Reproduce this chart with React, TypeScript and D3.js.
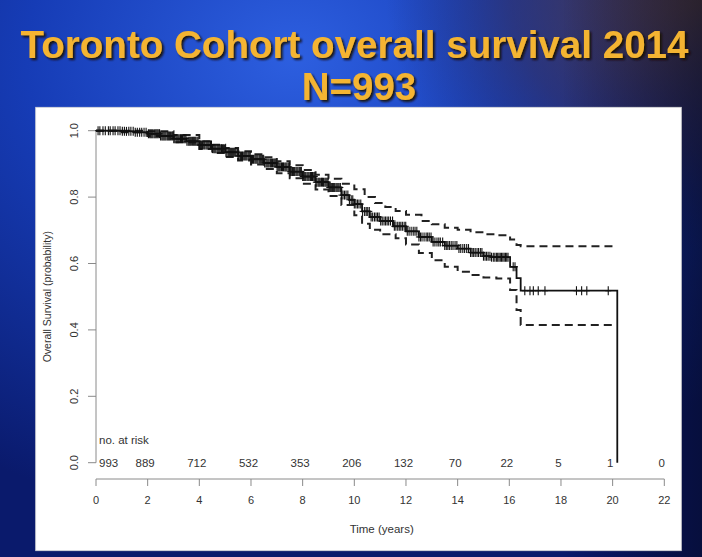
import React from "react";
import * as d3 from "d3";

// Kaplan–Meier estimate: [time (years), survival probability]
const survival: [number, number][] = [
  [0, 1.0], [0.5, 1.0], [1.0, 0.998], [1.5, 0.995], [2.0, 0.991], [2.5, 0.984],
  [3.0, 0.976], [3.5, 0.968], [4.0, 0.957], [4.5, 0.946], [5.0, 0.935], [5.5, 0.924],
  [6.0, 0.914], [6.5, 0.903], [7.0, 0.891], [7.5, 0.877], [8.0, 0.862], [8.5, 0.845],
  [9.0, 0.829], [9.5, 0.806], [9.8, 0.792], [10.0, 0.779], [10.3, 0.757], [10.6, 0.74],
  [11.0, 0.728], [11.5, 0.712], [12.0, 0.697], [12.5, 0.68], [13.0, 0.665], [13.5, 0.654],
  [14.0, 0.645], [14.5, 0.633], [15.0, 0.622], [15.3, 0.619], [16.03, 0.59],
  [16.28, 0.556], [16.44, 0.518], [20.18, 0],
];

// 95% confidence band, upper limit
const upperCI: [number, number][] = [
  [0, 1.0], [1.0, 1.0], [2.0, 0.998], [3.0, 0.987], [4.0, 0.968], [4.5, 0.958],
  [5.0, 0.948], [5.5, 0.938], [6.0, 0.929], [6.5, 0.92], [7.0, 0.908], [7.5, 0.896],
  [8.0, 0.882], [8.5, 0.867], [9.0, 0.855], [9.5, 0.84], [10.0, 0.824], [10.4, 0.8],
  [10.8, 0.782], [11.2, 0.77], [11.6, 0.758], [12.0, 0.747], [12.6, 0.728], [13.0, 0.718],
  [13.5, 0.708], [14.0, 0.702], [14.5, 0.694], [15.0, 0.688], [15.5, 0.685],
  [16.03, 0.672], [16.28, 0.656], [16.44, 0.652], [20.18, 0.652],
];

// 95% confidence band, lower limit
const lowerCI: [number, number][] = [
  [0, 1.0], [1.0, 0.995], [2.0, 0.984], [3.0, 0.965], [4.0, 0.945], [4.5, 0.933],
  [5.0, 0.921], [5.5, 0.91], [6.0, 0.898], [6.5, 0.885], [7.0, 0.872], [7.5, 0.857],
  [8.0, 0.84], [8.5, 0.823], [9.0, 0.803], [9.5, 0.776], [10.0, 0.745], [10.3, 0.72],
  [10.6, 0.702], [11.0, 0.688], [11.6, 0.676], [12.0, 0.657], [12.5, 0.632], [13.0, 0.61],
  [13.5, 0.59], [14.0, 0.575], [14.5, 0.565], [15.0, 0.558], [15.5, 0.555],
  [16.03, 0.52], [16.28, 0.46], [16.44, 0.415], [20.05, 0.415],
];

// Censoring times (years)
const censorTimes: number[] = [
  0.08, 0.15, 0.27, 0.36, 0.48, 0.55, 0.66, 0.74, 0.85, 0.93, 1.02, 1.1, 1.18, 1.27,
  1.35, 1.44, 1.52, 1.6, 1.69, 1.77, 1.86, 1.94, 2.03, 2.08, 2.12, 2.16, 2.2, 2.25,
  2.29, 2.33, 2.37, 2.41, 2.46, 2.5, 2.55, 2.59, 2.63, 2.67, 2.71, 2.76, 2.8, 2.84,
  2.88, 2.93, 2.97, 3.01, 3.05, 3.1, 3.14, 3.18, 3.22, 3.27, 3.31, 3.35, 3.4, 3.44,
  3.48, 3.52, 3.57, 3.61, 3.65, 3.69, 3.74, 3.78, 3.82, 3.86, 3.91, 3.95, 4.0, 4.04,
  4.08, 4.12, 4.17, 4.21, 4.26, 4.3, 4.34, 4.38, 4.43, 4.47, 4.51, 4.56, 4.6, 4.64,
  4.69, 4.73, 4.77, 4.81, 4.86, 4.9, 4.94, 4.99, 5.03, 5.07, 5.12, 5.16, 5.2, 5.24,
  5.29, 5.33, 5.37, 5.41, 5.46, 5.5, 5.54, 5.59, 5.63, 5.67, 5.72, 5.76, 5.8, 5.84,
  5.89, 5.93, 5.97, 6.02, 6.06, 6.1, 6.15, 6.19, 6.23, 6.27, 6.32, 6.36, 6.4, 6.45,
  6.49, 6.53, 6.58, 6.62, 6.66, 6.7, 6.75, 6.79, 6.83, 6.88, 6.92, 6.96, 7.01, 7.05,
  7.09, 7.13, 7.18, 7.22, 7.26, 7.31, 7.35, 7.39, 7.44, 7.48, 7.52, 7.56, 7.61, 7.65,
  7.69, 7.74, 7.78, 7.82, 7.87, 7.91, 7.95, 8.0, 8.04, 8.08, 8.12, 8.17, 8.21, 8.25,
  8.3, 8.34, 8.38, 8.43, 8.47, 8.51, 8.55, 8.6, 8.64, 8.68, 8.73, 8.77, 8.81, 8.86,
  8.9, 8.94, 8.98, 9.03, 9.07, 9.11, 9.16, 9.2, 9.24, 9.29, 9.33, 9.37, 9.41, 9.46,
  9.5, 9.56, 9.62, 9.68, 9.75, 9.81, 9.88, 9.94, 10.0, 10.06, 10.12, 10.18, 10.25,
  10.32, 10.4, 10.46, 10.52, 10.58, 10.65, 10.71, 10.78, 10.84, 10.9, 10.96, 11.02,
  11.08, 11.15, 11.21, 11.27, 11.33, 11.4, 11.48, 11.55, 11.61, 11.68, 11.74, 11.8,
  11.86, 11.93, 11.99, 12.05, 12.12, 12.2, 12.28, 12.35, 12.42, 12.5, 12.56, 12.62,
  12.7, 12.78, 12.84, 12.9, 12.97, 13.05, 13.12, 13.2, 13.27, 13.33, 13.42, 13.5,
  13.56, 13.62, 13.68, 13.75, 13.82, 13.9, 13.97, 14.05, 14.12, 14.2, 14.27, 14.35,
  14.42, 14.5, 14.56, 14.62, 14.68, 14.75, 14.81, 14.88, 14.94, 15.0, 15.06, 15.12,
  15.18, 15.25, 15.31, 15.38, 15.44, 15.5, 15.55, 15.6, 15.65, 15.7, 15.75, 15.8,
  15.85, 15.9, 15.95, 16.15, 16.22, 16.6, 16.8, 16.93, 17.12, 17.38, 18.6, 18.8,
  19.0, 19.83,
];

const xTicks = [0, 2, 4, 6, 8, 10, 12, 14, 16, 18, 20, 22];
const yTicks = [0, 0.2, 0.4, 0.6, 0.8, 1.0];
const numberAtRisk = [993, 889, 712, 532, 353, 206, 132, 70, 22, 5, 1, 0];

const titleLine1 = "Toronto Cohort overall survival 2014";
const titleLine2 = "N=993";

const W = 702;
const H = 557;
const FONT = "'Liberation Sans', Arial, Helvetica, sans-serif";

export default function App() {
  const x = d3.scaleLinear().domain([0, 22]).range([96, 664.3]);
  const y = d3.scaleLinear().domain([0, 1]).range([462.7, 130.7]);

  const step = d3
    .line<[number, number]>()
    .x((d) => x(d[0]))
    .y((d) => y(d[1]))
    .curve(d3.curveStepAfter);

  const bis = d3.bisector((d: [number, number]) => d[0]).right;
  const survAt = (t: number) => survival[Math.max(0, bis(survival, t) - 1)][1];

  const textCol = "#333";
  const axisCol = "#8a8a8a";
  const yAxisLabelY = (y(0) + y(1)) / 2;

  return (
    <svg
      width={W}
      height={H}
      viewBox={`0 0 ${W} ${H}`}
      style={{ position: "absolute", left: 0, top: 0, display: "block" }}
    >
      <defs>
        <radialGradient id="bgMain" cx="0.42" cy="0.1" r="0.85">
          <stop offset="0" stopColor="#2d5fe0" />
          <stop offset="0.45" stopColor="#163cb6" />
          <stop offset="1" stopColor="#0a1a6c" />
        </radialGradient>
        <radialGradient id="bgWarm" cx="1" cy="0" r="0.45">
          <stop offset="0" stopColor="#6a4a3a" stopOpacity="0.9" />
          <stop offset="0.6" stopColor="#3a2a45" stopOpacity="0.5" />
          <stop offset="1" stopColor="#1a1a50" stopOpacity="0" />
        </radialGradient>
        <linearGradient id="bgRight" x1="0" y1="0" x2="1" y2="0">
          <stop offset="0.8" stopColor="#000020" stopOpacity="0" />
          <stop offset="1" stopColor="#05081e" stopOpacity="0.6" />
        </linearGradient>
        <filter id="titleShadow" x="-5%" y="-30%" width="110%" height="160%">
          <feDropShadow dx="2" dy="2" stdDeviation="0.9" floodColor="#140c00" floodOpacity="0.9" />
        </filter>
      </defs>

      {/* slide background */}
      <rect x={0} y={0} width={W} height={H} fill="url(#bgMain)" />
      <rect x={0} y={0} width={W} height={H} fill="url(#bgWarm)" />
      <rect x={0} y={0} width={W} height={H} fill="url(#bgRight)" />

      {/* title */}
      <g
        fontFamily={FONT}
        fontWeight="bold"
        fontSize={38.5}
        textAnchor="middle"
        fill="#f4b430"
        filter="url(#titleShadow)"
      >
        <text x={354.5} y={58} textLength={668} lengthAdjust="spacingAndGlyphs">
          {titleLine1}
        </text>
        <text x={359} y={100}>{titleLine2}</text>
      </g>

      {/* plot panel */}
      <rect x={35.7} y={107.3} width={645.6} height={443.4} fill="#ffffff" stroke="#d8d8d8" strokeWidth={0.8} />

      <g fontFamily={FONT} fill={textCol}>
        {/* y axis */}
        <line x1={96} x2={96} y1={y(0)} y2={y(1)} stroke={axisCol} strokeWidth={1} />
        {yTicks.map((v) => (
          <g key={`yt${v}`}>
            <line x1={88} x2={96} y1={y(v)} y2={y(v)} stroke={axisCol} strokeWidth={1} />
            <text
              transform={`translate(77.5,${y(v)}) rotate(-90)`}
              textAnchor="middle"
              fontSize={11}
            >
              {v.toFixed(1)}
            </text>
          </g>
        ))}
        <text
          transform={`translate(50.5,${yAxisLabelY}) rotate(-90)`}
          textAnchor="middle"
          fontSize={10.5}
        >
          Overall Survival (probability)
        </text>

        {/* x axis */}
        <line x1={x(0)} x2={x(22)} y1={479} y2={479} stroke={axisCol} strokeWidth={1} />
        {xTicks.map((v) => (
          <g key={`xt${v}`}>
            <line x1={x(v)} x2={x(v)} y1={479} y2={486} stroke={axisCol} strokeWidth={1} />
            <text x={x(v)} y={504} textAnchor="middle" fontSize={11}>
              {v}
            </text>
          </g>
        ))}
        <text x={381.7} y={533} textAnchor="middle" fontSize={11.5}>
          Time (years)
        </text>

        {/* number at risk */}
        <text x={99} y={444} fontSize={11.5}>no. at risk</text>
        {numberAtRisk.map((n, i) => (
          <text
            key={`nr${i}`}
            x={i === 0 ? x(xTicks[i]) + 3 : x(xTicks[i]) - 2.5}
            y={467}
            textAnchor={i === 0 ? "start" : "middle"}
            fontSize={11.5}
          >
            {n}
          </text>
        ))}
      </g>

      {/* confidence band */}
      <path d={step(upperCI) ?? ""} fill="none" stroke="#222" strokeWidth={2} strokeDasharray="8,5" />
      <path d={step(lowerCI) ?? ""} fill="none" stroke="#222" strokeWidth={2} strokeDasharray="8,5" />

      {/* survival curve */}
      <path d={step(survival) ?? ""} fill="none" stroke="#111" strokeWidth={1.8} />

      {/* censoring marks */}
      <g stroke="#111" strokeWidth={1.1}>
        {censorTimes.map((t, i) => {
          const cx = x(t);
          const cy = y(survAt(t));
          return (
            <g key={`c${i}`}>
              <line x1={cx} x2={cx} y1={cy - 4.5} y2={cy + 4.5} />
              <line x1={cx - 3} x2={cx + 3} y1={cy} y2={cy} />
            </g>
          );
        })}
      </g>
    </svg>
  );
}
